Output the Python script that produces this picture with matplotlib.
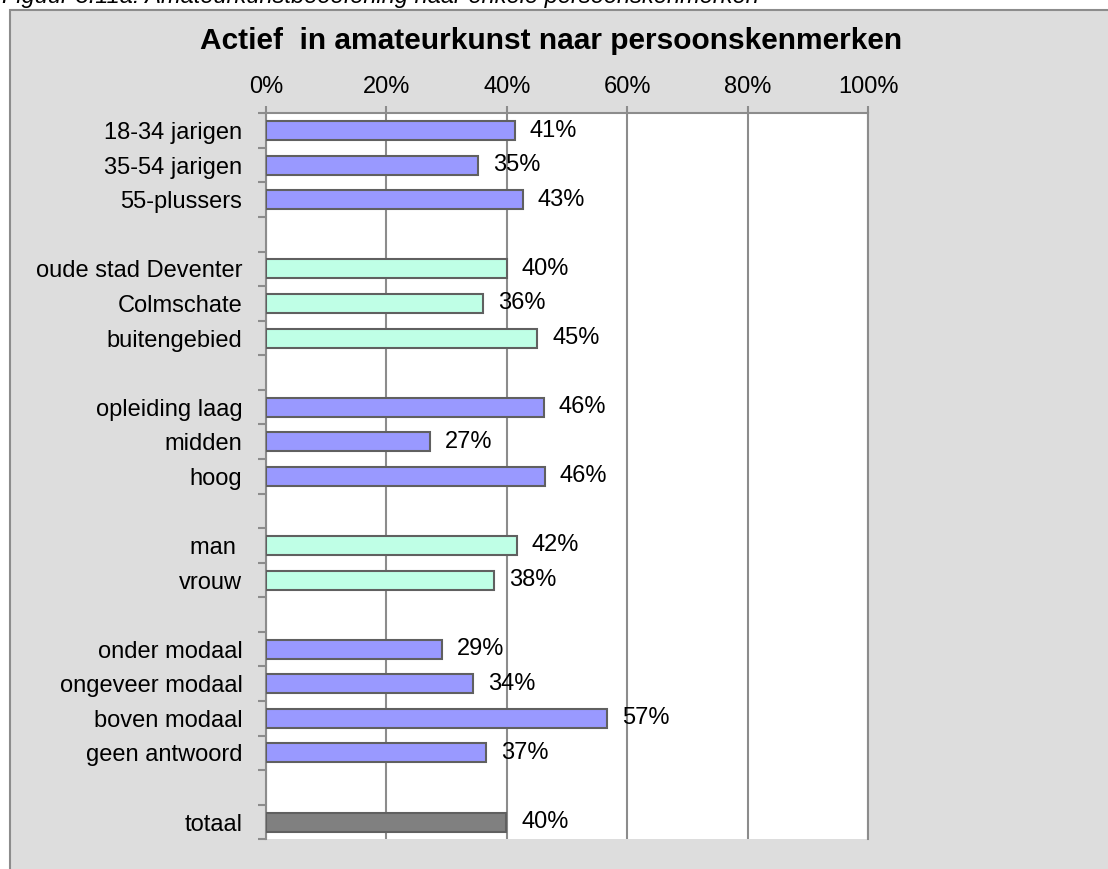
import matplotlib.pyplot as plt
import numpy as np

plt.rcParams["font.family"] = ["Liberation Sans", "DejaVu Sans"]

# rows top to bottom, "" = empty spacer row
categories = [
    "18-34 jarigen", "35-54 jarigen", "55-plussers", "",
    "oude stad Deventer", "Colmschate", "buitengebied", "",
    "opleiding laag", "midden", "hoog", "",
    "man ", "vrouw", "",
    "onder modaal", "ongeveer modaal", "boven modaal", "geen antwoord", "",
    "totaal",
]
values = [
    41.3, 35.2, 42.6, None,
    40.0, 36.0, 45.0, None,
    46.1, 27.2, 46.3, None,
    41.6, 37.8, None,
    29.2, 34.3, 56.6, 36.6, None,
    39.9,
]
groups = [
    "a", "a", "a", None,
    "b", "b", "b", None,
    "a", "a", "a", None,
    "b", "b", None,
    "a", "a", "a", "a", None,
    "t",
]
group_colors = {"a": "#9999FF", "b": "#BFFFE6", "t": "#808080"}
xticks = [0, 20, 40, 60, 80, 100]

title = "Actief  in amateurkunst naar persoonskenmerken"
caption = "Figuur 3.11a: Amateurkunstbeoefening naar enkele persoonskenmerken"

fig = plt.figure(figsize=(11.08, 8.69), dpi=100)
fig.patch.set_facecolor("white")

# grey chart area with border on top/left (rest is cut off)
frame = plt.Rectangle((9.5 / 1108, -0.1), 1.2, 1 - 10 / 869 + 0.1,
                      transform=fig.transFigure, facecolor="#DDDDDD",
                      edgecolor="#8C8C8C", linewidth=1.5, zorder=-5)
fig.patches.append(frame)

fig.text(2 / 1108, 1 - 3 / 869, caption, fontsize=17, style="italic",
         ha="left", va="baseline", color="black")

ax = fig.add_axes([266 / 1108, 1 - 839.3 / 869, (868.3 - 266) / 1108, (839.3 - 113.3) / 869])
ax.set_zorder(2)
ax.set_facecolor("white")

n = len(categories)
ypos = np.arange(n)
for y, v, g in zip(ypos, values, groups):
    if v is None:
        continue
    ax.barh(y, v, height=0.55, color=group_colors[g], edgecolor="#606060",
            linewidth=1.5, zorder=3)
    ax.annotate(f"{v:.0f}%", xy=(v, y), xytext=(15, 0), textcoords="offset pixels",
                ha="left", va="center", fontsize=17, zorder=4)

ax.set_xlim(0, 100)
ax.set_ylim(n - 0.5, -0.5)
ax.set_xticks(xticks)
ax.set_xticklabels([f"{t}%" for t in xticks])
ax.xaxis.tick_top()
ax.tick_params(axis="x", which="major", length=5, width=1.5, color="#8C8C8C",
               labelsize=17, pad=6)
ax.grid(axis="x", color="#8C8C8C", linewidth=1.5, zorder=1)
ax.set_axisbelow(True)

ax.set_yticks(ypos)
ax.set_yticklabels(categories)
ax.tick_params(axis="y", which="major", length=0, labelsize=17, pad=17)
ax.set_yticks(np.arange(n + 1) - 0.5, minor=True)
ax.tick_params(axis="y", which="minor", length=6, width=1.5, color="#8C8C8C")

ax.spines["bottom"].set_visible(False)
for side in ["top", "left", "right"]:
    ax.spines[side].set_color("#8C8C8C")
    ax.spines[side].set_linewidth(1.5)

fig.text(551 / 1108, 1 - 41 / 869, title, fontsize=21.5, fontweight="bold",
         ha="center", va="center")

fig.savefig("out.png", dpi=100, facecolor=fig.get_facecolor())
